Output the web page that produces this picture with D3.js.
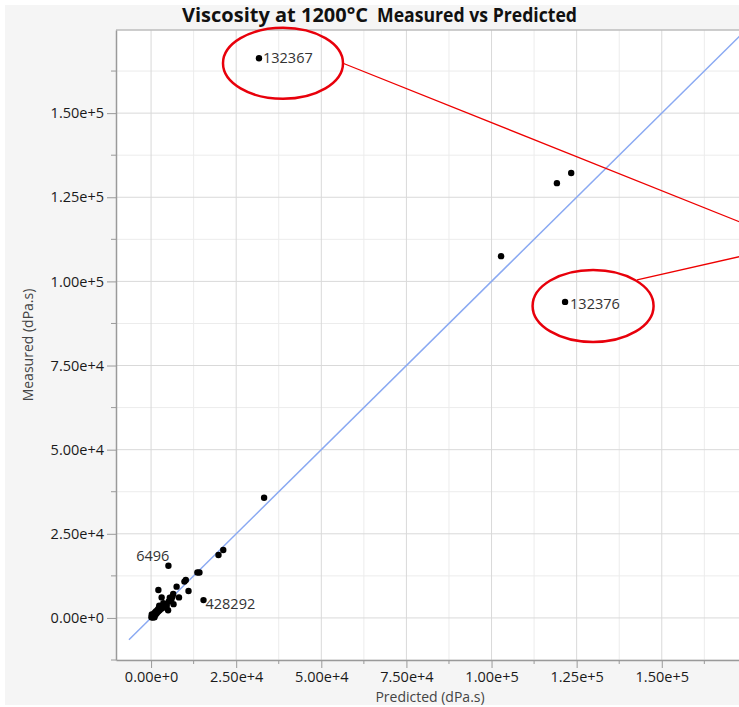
<!DOCTYPE html>
<html>
<head>
<meta charset="utf-8">
<script src="https://cdn.jsdelivr.net/npm/d3@7"></script>
<style>
  html, body { margin: 0; padding: 0; background: #ffffff; }
  svg { display: block; }
  text { font-family: "Open Sans", "Noto Sans", sans-serif; }
</style>
</head>
<body>
<svg id="chart" width="739" height="707"></svg>
<script>
// Predicted vs measured viscosity at 1200 °C (dPa.s)
const predicted = [
  31700, 121600, 119200, 123400, 102800, 33200, 19800, 21200,
  5100, 13600, 14200, 10200, 9800, 11000, 15400, 2150, 3100, 7500, 8200,
  6600, 5000, 5600, 6500,
  100, 300, 500, 600, 800, 900, 1100, 1200, 1400, 1500, 1700, 1900, 2100,
  2200, 2500, 2700, 3000, 3200, 3500, 3800, 4000, 4400, 200, 1000, 2400,
  3600, 4600, 5200, 6000, 5500, 6300
];
const measured = [
  166300, 93900, 129200, 132200, 107500, 35700, 18700, 20200,
  15500, 13500, 13500, 11300, 10800, 8000, 5300, 8300, 6100, 9300, 6100,
  4100, 2300, 5300, 7100,
  200, 600, 100, 900, 400, 1300, 800, 1700, 1100, 2000, 1500, 2400, 1900,
  2800, 2300, 3100, 2700, 3500, 3000, 3800, 3300, 4100, 1000, 200, 3600,
  4400, 3600, 4900, 5600, 6000, 6400
];
const pointIds = [
  "132367", "132376", "", "", "", "", "", "",
  "6496", "", "", "", "", "", "428292"
];
const circledIds = ["132367", "132376"];

const tickValues = [0, 25000, 50000, 75000, 100000, 125000, 150000];
const minorStep = 12500;
const xDomain = [-10300, 176000];
const yDomain = [-12500, 174700];
const refLine = [-6500, 180000];   // y = x reference line

const titleMain = "Viscosity at 1200°C";
const titleSub = "Measured vs Predicted";
const xTitle = "Predicted (dPa.s)";
const yTitle = "Measured (dPa.s)";

const svg = d3.select("#chart");
const W = 739, H = 707;
const plotL = 116, plotT = 30, plotB = 660;
const pxPerUnitX = 0.0034047;
const plotR = plotL + (xDomain[1] - xDomain[0]) * pxPerUnitX;

// panel background
svg.append("rect").attr("x", 5).attr("y", 5).attr("width", W - 5).attr("height", H - 7)
  .attr("fill", "#f5f5f5");

const x = d3.scaleLinear().domain(xDomain).range([plotL, plotR]);
const y = d3.scaleLinear().domain(yDomain).range([plotB, plotT]);

// plot frame
svg.append("rect").attr("x", plotL).attr("y", plotT)
  .attr("width", plotR - plotL).attr("height", plotB - plotT).attr("fill", "#ffffff");

const minorX = d3.range(0, xDomain[1], minorStep).filter(v => !tickValues.includes(v));
const minorY = d3.range(-12500, yDomain[1], minorStep).filter(v => !tickValues.includes(v));

const grid = svg.append("g");
grid.selectAll(".gxm").data(minorX).join("line")
  .attr("x1", d => x(d)).attr("x2", d => x(d)).attr("y1", plotT).attr("y2", plotB)
  .attr("stroke", "#ececec").attr("stroke-width", 1);
grid.selectAll(".gym").data(minorY).join("line")
  .attr("y1", d => y(d)).attr("y2", d => y(d)).attr("x1", plotL).attr("x2", plotR)
  .attr("stroke", "#ececec").attr("stroke-width", 1);
grid.selectAll(".gx").data(tickValues).join("line")
  .attr("x1", d => x(d)).attr("x2", d => x(d)).attr("y1", plotT).attr("y2", plotB)
  .attr("stroke", "#d9d9d9").attr("stroke-width", 1);
grid.selectAll(".gy").data(tickValues).join("line")
  .attr("y1", d => y(d)).attr("y2", d => y(d)).attr("x1", plotL).attr("x2", plotR)
  .attr("stroke", "#d9d9d9").attr("stroke-width", 1);

// top border
svg.append("line").attr("x1", plotL).attr("x2", plotR).attr("y1", plotT).attr("y2", plotT)
  .attr("stroke", "#bdbdbd").attr("stroke-width", 1.5);

const tickFmt = d3.format(".2e");

// x axis
const xAxis = d3.axisBottom(x).tickValues(tickValues).tickFormat(tickFmt)
  .tickSizeInner(8).tickSizeOuter(0).tickPadding(4);
const gx = svg.append("g").attr("transform", `translate(0,${plotB})`).call(xAxis);
gx.select(".domain").attr("stroke", "#9a9a9a").attr("stroke-width", 1.5);
gx.selectAll(".tick line").attr("stroke", "#9a9a9a");
gx.selectAll(".tick text").attr("fill", "#1a1a1a").style("font-size", "14.5px")
  .style("font-family", "'Open Sans', sans-serif");
svg.append("g").selectAll("line").data(minorX.filter(v => x(v) < W)).join("line")
  .attr("x1", d => x(d)).attr("x2", d => x(d)).attr("y1", plotB).attr("y2", plotB + 4)
  .attr("stroke", "#9a9a9a");

// y axis
const yAxis = d3.axisLeft(y).tickValues(tickValues).tickFormat(tickFmt)
  .tickSizeInner(9).tickSizeOuter(0).tickPadding(3);
const gy = svg.append("g").attr("transform", `translate(${plotL},0)`).call(yAxis);
gy.select(".domain").attr("stroke", "#9a9a9a").attr("stroke-width", 1.5);
gy.selectAll(".tick line").attr("stroke", "#9a9a9a");
gy.selectAll(".tick text").attr("fill", "#1a1a1a").style("font-size", "14.5px")
  .style("font-family", "'Open Sans', sans-serif");
svg.append("g").selectAll("line").data(minorY).join("line")
  .attr("x1", plotL - 5).attr("x2", plotL).attr("y1", d => y(d)).attr("y2", d => y(d))
  .attr("stroke", "#9a9a9a");

// clip for plot contents
svg.append("clipPath").attr("id", "plotclip").append("rect")
  .attr("x", plotL).attr("y", plotT).attr("width", plotR - plotL).attr("height", plotB - plotT);
const plot = svg.append("g").attr("clip-path", "url(#plotclip)");

// reference line y = x
plot.append("line")
  .attr("x1", x(refLine[0])).attr("y1", y(refLine[0]))
  .attr("x2", x(refLine[1])).attr("y2", y(refLine[1]))
  .attr("stroke", "#8aa9f2").attr("stroke-width", 1.5);

const pts = predicted.map((p, i) => ({ p, m: measured[i], id: pointIds[i] || "" }));

plot.selectAll("circle.pt").data(pts).join("circle")
  .attr("class", "pt")
  .attr("cx", d => x(d.p)).attr("cy", d => y(d.m)).attr("r", 3.2)
  .attr("fill", "#000");

// point labels
const labelStyle = {
  "132367": { dx: 4, dy: 5, anchor: "start" },
  "132376": { dx: 5, dy: 7, anchor: "start" },
  "6496":   { dx: 1, dy: -5, anchor: "end" },
  "428292": { dx: 2, dy: 9, anchor: "start" }
};
plot.selectAll("text.lbl").data(pts.filter(d => d.id)).join("text")
  .attr("class", "lbl")
  .attr("x", d => x(d.p) + labelStyle[d.id].dx)
  .attr("y", d => y(d.m) + labelStyle[d.id].dy)
  .attr("text-anchor", d => labelStyle[d.id].anchor)
  .attr("fill", "#333").style("font-size", "14.5px")
  .text(d => d.id);

// highlighted points: red ellipses with leader lines to an off-plot note
const circled = pts.filter(d => circledIds.includes(d.id));
const ell = [
  { cx: 24, cy: 5, rx: 60, ry: 35.5, ax: 60, ay: 0 },
  { cx: 28, cy: 4, rx: 60.5, ry: 36, ax: 44, ay: -26 }
];
const noteX = 795, noteY = 244;
circled.forEach((d, i) => {
  const e = ell[i];
  const cx = x(d.p) + e.cx, cy = y(d.m) + e.cy;
  svg.append("ellipse").attr("cx", cx).attr("cy", cy).attr("rx", e.rx).attr("ry", e.ry)
    .attr("fill", "none").attr("stroke", "#e8000b").attr("stroke-width", 2.5);
  svg.append("line").attr("x1", cx + e.ax).attr("y1", cy + e.ay)
    .attr("x2", noteX).attr("y2", noteY)
    .attr("stroke", "#ee0000").attr("stroke-width", 1.3);
});

// titles
svg.append("text").attr("x", 182).attr("y", 22)
  .attr("textLength", 186).attr("lengthAdjust", "spacingAndGlyphs")
  .style("font-size", "19.5px").style("font-weight", "bold").attr("fill", "#111")
  .text(titleMain);
svg.append("text").attr("x", 377).attr("y", 22)
  .attr("textLength", 200).attr("lengthAdjust", "spacingAndGlyphs")
  .style("font-size", "19.5px").style("font-weight", "bold").attr("fill", "#111")
  .text(titleSub);

svg.append("text").attr("x", 430).attr("y", 702).attr("text-anchor", "middle")
  .attr("fill", "#444").style("font-size", "14px").text(xTitle);
svg.append("text").attr("transform", `translate(33,${(plotT + plotB) / 2}) rotate(-90)`)
  .attr("text-anchor", "middle").attr("fill", "#444").style("font-size", "14px").text(yTitle);
</script>
</body>
</html>
